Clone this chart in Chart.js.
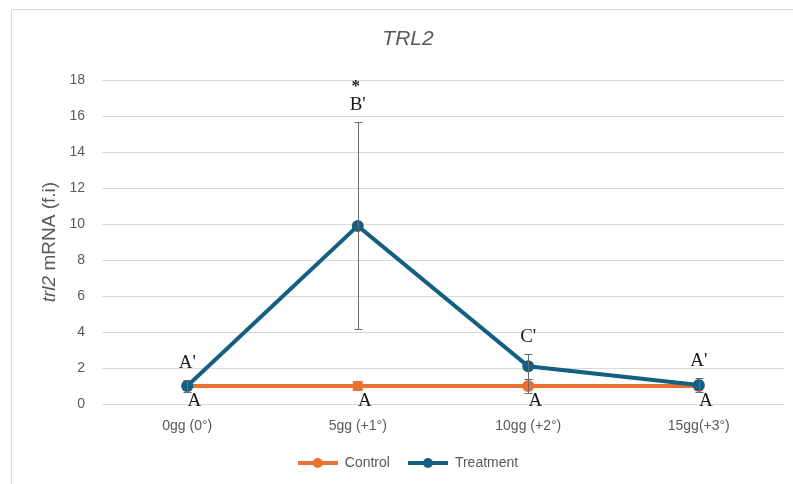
<!DOCTYPE html>
<html>
<head>
<meta charset="utf-8">
<script src="https://cdn.jsdelivr.net/npm/chart.js@4"></script>
<style>
  html, body { margin: 0; padding: 0; background: #ffffff; }
  #wrap { width: 793px; height: 484px; position: relative; }
</style>
</head>
<body>
<div id="wrap"><canvas id="c" width="793" height="484"></canvas></div>
<script>
const categories = ['0gg (0°)', '5gg (+1°)', '10gg (+2°)', '15gg(+3°)'];
const controlValues = [1, 1, 1, 1];
const controlErrors = [0, 0, 0.4, 0];
const treatmentValues = [1.0, 9.9, 2.1, 1.05];
const treatmentErrors = [0.35, 5.75, 0.7, 0.38];
const treatmentLetters = ["A'", "B'", "C'", "A'"];
const controlLetters = ['A', 'A', 'A', 'A'];
const significanceMarks = ['', '*', '', ''];
const yMin = 0, yMax = 18, yStep = 2;
const chartTitle = 'TRL2';
const yTitleItalic = 'trl2';
const yTitleRest = ' mRNA (f.i)';

const ORANGE = '#E97132';
const BLUE = '#156082';
const GRAY = '#595959';

function legendIcon(color) {
  const c = document.createElement('canvas');
  c.width = 40; c.height = 12;
  const g = c.getContext('2d');
  g.strokeStyle = color; g.lineWidth = 4;
  g.beginPath(); g.moveTo(0, 6); g.lineTo(40, 6); g.stroke();
  g.fillStyle = color;
  g.beginPath(); g.arc(20, 6, 5, 0, Math.PI * 2); g.fill();
  return c;
}
const icons = [legendIcon(ORANGE), legendIcon(BLUE)];

const frame = {
  id: 'frame',
  beforeDraw(chart) {
    const ctx = chart.ctx;
    ctx.save();
    ctx.fillStyle = '#ffffff';
    ctx.fillRect(0, 0, chart.width, chart.height);
    ctx.strokeStyle = '#d9d9d9';
    ctx.lineWidth = 1;
    ctx.beginPath();
    ctx.moveTo(11.5, chart.height);
    ctx.lineTo(11.5, 9.5);
    ctx.lineTo(chart.width, 9.5);
    ctx.stroke();
    ctx.restore();
  }
};

const errorBars = {
  id: 'errorBars',
  afterDatasetsDraw(chart) {
    const ctx = chart.ctx;
    const y = chart.scales.y;
    const sets = [[0, controlValues, controlErrors], [1, treatmentValues, treatmentErrors]];
    ctx.save();
    ctx.strokeStyle = '#6a6a6a';
    ctx.lineWidth = 1;
    sets.forEach(([di, vals, errs]) => {
      const meta = chart.getDatasetMeta(di);
      vals.forEach((v, i) => {
        const e = errs[i];
        if (!e) return;
        const x = Math.round(meta.data[i].x) + 0.5;
        const yt = Math.round(y.getPixelForValue(v + e)) + 0.5;
        const yb = Math.round(y.getPixelForValue(v - e)) + 0.5;
        ctx.beginPath();
        ctx.moveTo(x, yt); ctx.lineTo(x, yb);
        ctx.moveTo(x - 4, yt); ctx.lineTo(x + 4, yt);
        ctx.moveTo(x - 4, yb); ctx.lineTo(x + 4, yb);
        ctx.stroke();
      });
    });
    ctx.restore();
  }
};

const letters = {
  id: 'letters',
  afterDraw(chart) {
    const ctx = chart.ctx;
    const y = chart.scales.y;
    const tMeta = chart.getDatasetMeta(1);
    const cMeta = chart.getDatasetMeta(0);
    const serif = '19px "Liberation Serif", "Times New Roman", serif';
    ctx.save();
    ctx.fillStyle = '#1a1a1a';
    ctx.textAlign = 'center';
    ctx.textBaseline = 'middle';
    ctx.font = serif;
    treatmentLetters.forEach((t, i) => {
      const x = tMeta.data[i].x;
      const top = y.getPixelForValue(treatmentValues[i] + treatmentErrors[i]);
      const ly = top - 17;
      ctx.fillText(t, x, ly);
      if (significanceMarks[i]) {
        ctx.font = 'bold 17px "Liberation Serif", serif';
        ctx.fillText(significanceMarks[i], x - 2, ly - 19);
        ctx.font = serif;
      }
    });
    controlLetters.forEach((t, i) => {
      const x = cMeta.data[i].x;
      const py = y.getPixelForValue(controlValues[i]);
      ctx.fillText(t, x + 7, py + 15);
    });
    ctx.restore();
  }
};

const yTitle = {
  id: 'yTitle',
  afterDraw(chart) {
    const ctx = chart.ctx;
    const ca = chart.chartArea;
    const fI = 'italic 19px "Liberation Sans", Arial, sans-serif';
    const fR = '19px "Liberation Sans", Arial, sans-serif';
    ctx.save();
    ctx.font = fI; const w1 = ctx.measureText(yTitleItalic).width;
    ctx.font = fR; const w2 = ctx.measureText(yTitleRest).width;
    ctx.translate(50, (ca.top + ca.bottom) / 2);
    ctx.rotate(-Math.PI / 2);
    ctx.fillStyle = GRAY;
    ctx.textBaseline = 'middle';
    ctx.textAlign = 'left';
    const start = -(w1 + w2) / 2;
    ctx.font = fI; ctx.fillText(yTitleItalic, start, 0);
    ctx.font = fR; ctx.fillText(yTitleRest, start + w1, 0);
    ctx.restore();
  }
};

new Chart(document.getElementById('c'), {
  type: 'line',
  data: {
    labels: categories,
    datasets: [
      {
        label: 'Control',
        data: controlValues,
        borderColor: ORANGE,
        backgroundColor: ORANGE,
        borderWidth: 4,
        pointStyle: ['circle', 'rect', 'circle', 'circle'],
        pointRadius: [6, 7, 6, 6],
        pointBorderWidth: 0,
        tension: 0,
        order: 2
      },
      {
        label: 'Treatment',
        data: treatmentValues,
        borderColor: BLUE,
        backgroundColor: BLUE,
        borderWidth: 4,
        pointStyle: 'circle',
        pointRadius: 6,
        pointBorderWidth: 0,
        tension: 0,
        order: 1
      }
    ]
  },
  options: {
    responsive: false,
    animation: false,
    devicePixelRatio: 1,
    layout: { padding: { left: 32, right: 9, top: 0, bottom: 4 } },
    plugins: {
      title: {
        display: true,
        text: chartTitle,
        color: GRAY,
        font: { family: '"Liberation Sans", Arial, sans-serif', size: 21, style: 'italic', weight: 'normal' },
        padding: { top: 27, bottom: 28 }
      },
      legend: {
        display: true,
        position: 'bottom',
        labels: {
          usePointStyle: true,
          pointStyleWidth: 40,
          padding: 18,
          color: GRAY,
          font: { family: '"Liberation Sans", Arial, sans-serif', size: 14 },
          sort: (a, b) => a.datasetIndex - b.datasetIndex,
          generateLabels(chart) {
            const items = Chart.defaults.plugins.legend.labels.generateLabels(chart);
            items.forEach(it => { it.pointStyle = icons[it.datasetIndex]; });
            return items;
          }
        }
      },
      tooltip: { enabled: false }
    },
    scales: {
      x: {
        offset: true,
        grid: { display: false, drawTicks: false },
        border: { display: false },
        ticks: {
          color: GRAY,
          padding: 14,
          maxRotation: 0,
          font: { family: '"Liberation Sans", Arial, sans-serif', size: 14 }
        },
        afterFit(s) { s.height = 34; }
      },
      y: {
        min: yMin,
        max: yMax,
        grid: { color: '#d9d9d9', lineWidth: 1, drawTicks: false },
        border: { display: false },
        ticks: {
          stepSize: yStep,
          color: GRAY,
          padding: 17,
          font: { family: '"Liberation Sans", Arial, sans-serif', size: 14 }
        },
        afterFit(s) { s.width = 70; }
      }
    }
  },
  plugins: [frame, errorBars, letters, yTitle]
});
</script>
</body>
</html>
